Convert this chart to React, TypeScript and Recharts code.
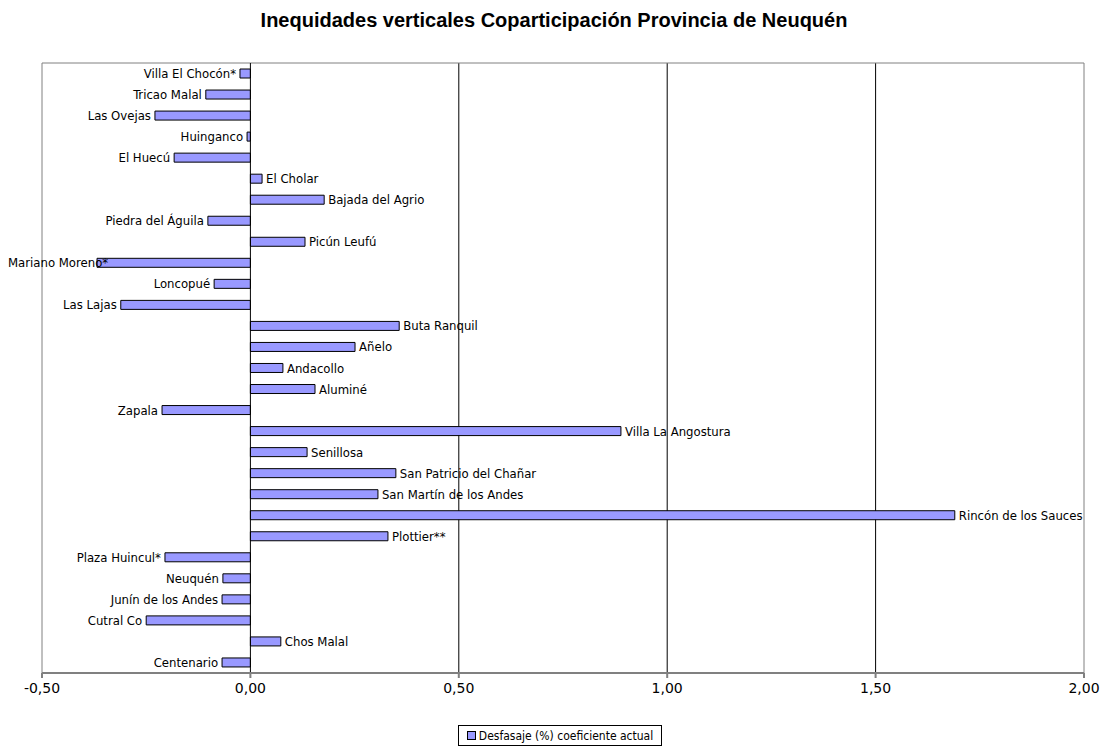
import { BarChart, Bar, XAxis, YAxis, CartesianGrid, ReferenceArea, ReferenceLine, LabelList } from 'recharts';

// Municipios de arriba hacia abajo, tal como se listan en el gráfico
const municipios = [
  'Villa El Chocón*', 'Tricao Malal', 'Las Ovejas', 'Huinganco', 'El Huecú',
  'El Cholar', 'Bajada del Agrio', 'Piedra del Águila', 'Picún Leufú', 'Mariano Moreno*',
  'Loncopué', 'Las Lajas', 'Buta Ranquil', 'Añelo', 'Andacollo',
  'Aluminé', 'Zapala', 'Villa La Angostura', 'Senillosa', 'San Patricio del Chañar',
  'San Martín de los Andes', 'Rincón de los Sauces', 'Plottier**', 'Plaza Huincul*', 'Neuquén',
  'Junín de los Andes', 'Cutral Co', 'Chos Malal', 'Centenario',
];

// Desfasaje (%) respecto del coeficiente actual
const desfasaje = [
  -0.025, -0.107, -0.229, -0.008, -0.183,
  0.028, 0.177, -0.102, 0.131, -0.368,
  -0.087, -0.311, 0.357, 0.251, 0.078,
  0.155, -0.212, 0.889, 0.136, 0.349,
  0.306, 1.69, 0.33, -0.205, -0.066,
  -0.068, -0.25, 0.073, -0.068,
];

const ticksX = [-0.5, 0, 0.5, 1, 1.5, 2];

const FUENTE = '"DejaVu Sans Condensed", "DejaVu Sans", sans-serif';
const COLOR_BARRA = '#9999FF';

const datos = municipios.map((nombre, i) => ({ nombre, valor: desfasaje[i] }));

let ctxMedida: CanvasRenderingContext2D | null = null;
const anchoTexto = (txt: string) => {
  if (!ctxMedida) ctxMedida = document.createElement('canvas').getContext('2d');
  if (!ctxMedida) return txt.length * 6.5;
  ctxMedida.font = `13px ${FUENTE}`;
  return ctxMedida.measureText(txt).width;
};

// Etiqueta con el nombre del municipio al final de cada barra
const EtiquetaNombre = (props: any) => {
  const { x, y, width, height, index } = props;
  const nombre = municipios[index];
  const valor = desfasaje[index];
  const fin = valor >= 0 ? Math.max(x, x + width) : Math.min(x, x + width);
  const cy = y + height / 2;
  if (valor >= 0) {
    return (
      <text x={fin + 4} y={cy} dy="0.35em" textAnchor="start" fontSize={13} fontFamily={FUENTE} fill="#000">
        {nombre}
      </text>
    );
  }
  // si no entra a la izquierda se corre hacia adentro del gráfico
  const w = anchoTexto(nombre);
  const xIzq = Math.max(8, fin - 4 - w);
  return (
    <text x={xIzq} y={cy} dy="0.35em" textAnchor="start" fontSize={13} fontFamily={FUENTE} fill="#000">
      {nombre}
    </text>
  );
};

const formatoTick = (v: number) => v.toFixed(2).replace('.', ',');

export default function App() {
  return (
    <div style={{ position: 'absolute', left: 0, top: 0, width: 1108, height: 746, background: '#fff' }}>
      <div
        style={{
          position: 'absolute', top: 9, left: 0, width: 1108, textAlign: 'center',
          fontFamily: '"Liberation Sans", Arial, sans-serif', fontWeight: 'bold', fontSize: 20,
        }}
      >
        Inequidades verticales Coparticipación Provincia de Neuquén
      </div>

      <BarChart
        width={1108}
        height={746}
        data={datos}
        layout="vertical"
        margin={{ top: 63, right: 24, left: 42, bottom: 43 }}
      >
        <CartesianGrid horizontal={false} verticalValues={[0.5, 1, 1.5]} stroke="#000" strokeWidth={1} />
        <ReferenceArea x1={-0.5} x2={2} fill="none" stroke="#808080" strokeWidth={1} ifOverflow="visible" />
        <XAxis
          type="number"
          domain={[-0.5, 2]}
          ticks={ticksX}
          tickFormatter={formatoTick}
          height={30}
          stroke="#808080"
          strokeWidth={2}
          tickSize={5}
          tickMargin={5}
          tick={{ fontSize: 14, fill: '#000', fontFamily: '"DejaVu Sans", sans-serif' }}
          interval={0}
        />
        <YAxis type="category" dataKey="nombre" hide />
        <ReferenceLine x={0} stroke="#000" strokeWidth={1} />
        <Bar dataKey="valor" fill={COLOR_BARRA} stroke="#000" strokeWidth={1} barSize={9} isAnimationActive={false}>
          <LabelList dataKey="valor" content={<EtiquetaNombre />} />
        </Bar>
      </BarChart>

      <div
        style={{
          position: 'absolute', left: 458, top: 725, width: 204, height: 21, boxSizing: 'border-box',
          border: '1px solid #000', display: 'flex', alignItems: 'center', justifyContent: 'center',
          fontFamily: FUENTE, fontSize: 12, gap: 3,
        }}
      >
        <span style={{ width: 7, height: 7, background: COLOR_BARRA, border: '1px solid #000', display: 'inline-block' }} />
        <span>Desfasaje (%) coeficiente actual</span>
      </div>
    </div>
  );
}
